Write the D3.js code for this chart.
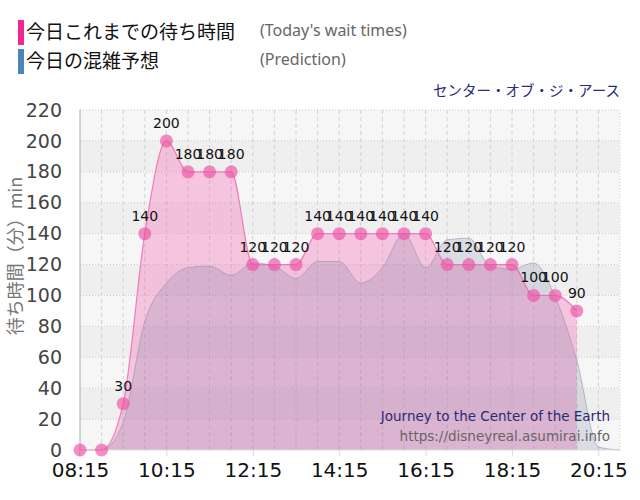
<!DOCTYPE html>
<html>
<head>
<meta charset="utf-8">
<script src="https://cdn.jsdelivr.net/npm/d3@7"></script>
<style>
  body { margin: 0; background: #fff; }
</style>
</head>
<body>
<div id="chart"></div>
<script>
// today's actual wait times (every 30 min)
const actualTimes = ["08:15","08:45","09:15","09:45","10:15","10:45","11:15","11:45","12:15","12:45","13:15","13:45",
  "14:15","14:45","15:15","15:45","16:15","16:45","17:15","17:45","18:15","18:45","19:15","19:45"];
const actualValues = [0,0,30,140,200,180,180,180,120,120,120,140,140,140,140,140,140,120,120,120,120,100,100,90];

// prediction curve
const predTimes = ["08:15","08:45","09:15","09:45","10:15","10:45","11:15","11:45","12:15","12:45","13:15","13:45",
  "14:15","14:45","15:15","15:45","16:15","16:45","17:15","17:45","18:15","18:45","19:15","19:45","20:15","20:45"];
const predValues = [0,0,18,83,108,118,119,113,121,119,111,122,122,108,118,140,118,136,137,119,117,121,99,58,2,0];

const yTicks = [0,20,40,60,80,100,120,140,160,180,200,220];
const xTickLabels = ["08:15","10:15","12:15","14:15","16:15","18:15","20:15"];
const xDomain = ["08:15","20:45"];

function toMin(t) {
  const p = t.split(":");
  return +p[0] * 60 + +p[1];
}

function chart(container) {
  //size
  const width = 640;
  const height = 500;
  const margin = { top: 110, bottom: 50, left: 80, right: 20 };
  const innerWidth = width - margin.left - margin.right;
  const innerHeight = height - margin.top - margin.bottom;

  const actual = actualTimes.map((t, i) => ({ t: toMin(t), v: actualValues[i] }));
  const pred = predTimes.map((t, i) => ({ t: toMin(t), v: predValues[i] }));

  //scales
  const xScale = d3.scaleLinear()
    .domain(xDomain.map(toMin))
    .range([0, innerWidth]);
  const yScale = d3.scaleLinear()
    .domain([0, 220])
    .range([innerHeight, 0]);

  const svg = container.append("svg")
    .attr("width", width)
    .attr("height", height);

  const g = svg.append("g")
    .attr("transform", `translate(${margin.left},${margin.top})`);

  // background bands
  g.selectAll("rect.band")
    .data(yTicks.slice(0, -1))
    .join("rect")
    .attr("class", "band")
    .attr("x", 0)
    .attr("width", innerWidth)
    .attr("y", (d) => yScale(d + 20))
    .attr("height", (d) => yScale(d) - yScale(d + 20))
    .attr("fill", (d) => ((d / 20) % 2 == 0 ? "#f6f6f6" : "#efefef"));

  // vertical grid every 30 min
  const gridTimes = d3.range(toMin("08:45"), toMin("20:45") + 1, 30);
  g.selectAll("line.vgrid")
    .data(gridTimes)
    .join("line")
    .attr("class", "vgrid")
    .attr("x1", (d) => xScale(d))
    .attr("x2", (d) => xScale(d))
    .attr("y1", 0)
    .attr("y2", innerHeight)
    .attr("stroke", "#d2d2d2")
    .attr("stroke-dasharray", (d) => (d == toMin("20:45") ? "1,2" : "4,3"));

  // horizontal grid
  g.selectAll("line.hgrid")
    .data(yTicks.slice(1))
    .join("line")
    .attr("class", "hgrid")
    .attr("x1", 0)
    .attr("x2", innerWidth)
    .attr("y1", (d) => yScale(d))
    .attr("y2", (d) => yScale(d))
    .attr("stroke", "#c8c8c8")
    .attr("stroke-dasharray", "1,2");

  // actual area
  const area = d3.area()
    .x((d) => xScale(d.t))
    .y0(yScale(0))
    .y1((d) => yScale(d.v))
    .curve(d3.curveMonotoneX);
  const line = d3.line()
    .x((d) => xScale(d.t))
    .y((d) => yScale(d.v))
    .curve(d3.curveMonotoneX);

  g.append("path")
    .datum(actual)
    .attr("d", area)
    .attr("fill", "rgba(245,110,182,0.37)");

  // prediction area on top
  g.append("path")
    .datum(pred)
    .attr("d", area)
    .attr("fill", "rgba(110,118,160,0.2)");
  g.append("path")
    .datum(pred)
    .attr("d", line)
    .attr("fill", "none")
    .attr("stroke", "rgba(150,145,180,0.6)")
    .attr("stroke-width", 1);

  g.append("path")
    .datum(actual)
    .attr("d", line)
    .attr("fill", "none")
    .attr("stroke", "rgba(240,100,175,0.8)")
    .attr("stroke-width", 1.2);

  // axes
  g.append("line")
    .attr("x1", 0).attr("x2", 0)
    .attr("y1", 0).attr("y2", innerHeight + 6)
    .attr("stroke", "#aaa");
  g.append("line")
    .attr("x1", 0).attr("x2", innerWidth)
    .attr("y1", innerHeight).attr("y2", innerHeight)
    .attr("stroke", "#ddd");

  g.append("g")
    .call(d3.axisLeft(yScale).tickValues(yTicks).tickSize(0).tickPadding(18))
    .call((a) => {
      a.select(".domain").remove();
      a.selectAll("text")
        .attr("font-family", "DejaVu Sans")
        .attr("font-size", 19)
        .attr("fill", "#444");
    });

  g.append("g")
    .attr("transform", `translate(0,${innerHeight})`)
    .call(d3.axisBottom(xScale).tickValues(xTickLabels.map(toMin)).tickSize(6).tickPadding(7)
      .tickFormat((d, i) => xTickLabels[i]))
    .call((a) => {
      a.select(".domain").remove();
      a.selectAll("line").attr("stroke", "#ddd");
      a.selectAll("text")
        .attr("font-family", "DejaVu Sans")
        .attr("font-size", 20)
        .attr("fill", "#111");
    });

  // markers
  g.selectAll("circle.dot")
    .data(actual)
    .join("circle")
    .attr("class", "dot")
    .attr("cx", (d) => xScale(d.t))
    .attr("cy", (d) => yScale(d.v))
    .attr("r", 6.5)
    .attr("fill", "rgba(238,80,165,0.65)");

  g.selectAll("text.val")
    .data(actual.filter((d) => d.v > 0))
    .join("text")
    .attr("class", "val")
    .attr("x", (d) => xScale(d.t))
    .attr("y", (d) => yScale(d.v) - 13)
    .attr("text-anchor", "middle")
    .attr("font-family", "DejaVu Sans")
    .attr("font-size", 14)
    .attr("fill", "#111")
    .text((d) => d.v);

  // y axis title
  svg.append("text")
    .attr("transform", `translate(22,256) rotate(-90)`)
    .attr("text-anchor", "middle")
    .attr("font-family", "Noto Sans CJK JP")
    .attr("font-size", 18)
    .attr("fill", "#777")
    .text("待ち時間（分）min");

  // legend
  svg.append("rect").attr("x", 18).attr("y", 20).attr("width", 6).attr("height", 25).attr("fill", "#f0288f");
  svg.append("rect").attr("x", 18).attr("y", 49).attr("width", 6).attr("height", 25).attr("fill", "#4a86ba");
  svg.append("text").attr("x", 26).attr("y", 39)
    .attr("font-family", "Noto Sans CJK JP").attr("font-size", 19).attr("fill", "#111")
    .text("今日これまでの待ち時間");
  svg.append("text").attr("x", 26).attr("y", 68)
    .attr("font-family", "Noto Sans CJK JP").attr("font-size", 19).attr("fill", "#111")
    .text("今日の混雑予想");
  svg.append("text").attr("x", 260).attr("y", 36)
    .attr("font-family", "Noto Sans").attr("font-size", 16).attr("fill", "#666")
    .text("(Today's wait times)");
  svg.append("text").attr("x", 260).attr("y", 65)
    .attr("font-family", "Noto Sans").attr("font-size", 16).attr("fill", "#666")
    .text("(Prediction)");

  svg.append("text").attr("x", 620).attr("y", 96)
    .attr("text-anchor", "end")
    .attr("font-family", "Noto Sans CJK JP").attr("font-size", 14.5).attr("fill", "#2b2b80")
    .text("センター・オブ・ジ・アース");

  svg.append("text").attr("x", 610).attr("y", 421)
    .attr("text-anchor", "end")
    .attr("font-family", "DejaVu Sans").attr("font-size", 13.5).attr("fill", "#2b2b70")
    .text("Journey to the Center of the Earth");
  svg.append("text").attr("x", 610).attr("y", 441)
    .attr("text-anchor", "end")
    .attr("font-family", "DejaVu Sans").attr("font-size", 13.5).attr("fill", "#666")
    .text("https://disneyreal.asumirai.info");
}

chart(d3.select("#chart"));
</script>
</body>
</html>
